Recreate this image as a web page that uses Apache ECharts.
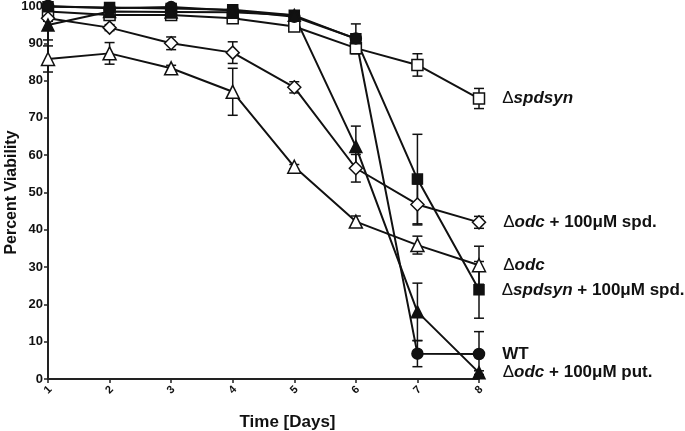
<!DOCTYPE html>
<html>
<head>
<meta charset="utf-8">
<script src="https://cdn.jsdelivr.net/npm/echarts@6/dist/echarts.min.js"></script>
<style>
  html, body { margin: 0; padding: 0; background: #fff; }
  #chart { width: 685px; height: 431px; }
</style>
</head>
<body>
<div id="chart"></div>
<script>
// days on the x axis
const days = [1, 2, 3, 4, 5, 6, 7, 8]

// percent viability (mean) and error (+/-) for each strain
const spdsyn       = [98.5, 97.6, 97.6, 96.7, 94.5, 88.7, 84.2, 75.2]
const spdsynErr    = [0.8, 0.8, 0.8, 1.0, 1.0, 1.2, 3.0, 2.7]
const odcSpd       = [96.7, 94.2, 90.0, 87.5, 78.2, 56.5, 46.8, 42.0]
const odcSpdErr    = [0.8, 0.8, 1.7, 2.9, 1.5, 3.7, 5.5, 1.6]
const odc          = [85.8, 87.3, 83.3, 77.0, 56.9, 42.2, 35.9, 30.5]
const odcErr       = [3.5, 2.9, 0.8, 6.3, 0.6, 1.5, 2.4, 5.1]
const spdsynSpd    = [99.8, 99.6, 99.3, 99.0, 97.5, 91.2, 53.6, 23.9]
const spdsynSpdErr = [0.3, 0.3, 0.3, 0.3, 0.5, 4.0, 12.0, 7.6]
const wt           = [100, 99.4, 99.7, 98.8, 97.1, 91.3, 6.8, 6.7]
const wtErr        = [0.3, 0.3, 0.3, 0.3, 0.5, 1.0, 3.5, 6.0]
const odcPut       = [94.9, 98.5, 98.4, 98.3, 97.5, 62.3, 18.0, 1.7]
const odcPutErr    = [4.0, 0.5, 0.5, 0.5, 0.5, 5.5, 7.7, 0.5]

const yTicks = [0, 10, 20, 30, 40, 50, 60, 70, 80, 90, 100]

const strains = [
    { label: '{d|Δ}{i|spdsyn}', values: spdsyn, errs: spdsynErr, symbol: 'rect', size: 11, open: true },
    { label: '{d|Δ}{i|odc}{b| + 100μM spd.}', values: odcSpd, errs: odcSpdErr, symbol: 'diamond', size: 13, open: true },
    { label: '{d|Δ}{i|odc}', values: odc, errs: odcErr, symbol: 'triangle', size: 13, open: true },
    { label: '{d|Δ}{i|spdsyn}{b| + 100μM spd.}', values: spdsynSpd, errs: spdsynSpdErr, symbol: 'rect', size: 10, open: false },
    { label: '{b|WT}', values: wt, errs: wtErr, symbol: 'circle', size: 11, open: false },
    { label: '{d|Δ}{i|odc}{b| + 100μM put.}', values: odcPut, errs: odcPutErr, symbol: 'triangle', size: 12, open: false }
]

const font = '"Liberation Sans", Arial, sans-serif'
const labelRich = {
    d: { fontFamily: font, fontSize: 17, fontWeight: 'normal', color: '#111' },
    i: { fontFamily: font, fontSize: 17, fontWeight: 'bold', fontStyle: 'italic', color: '#111' },
    b: { fontFamily: font, fontSize: 17, fontWeight: 'bold', color: '#111' }
}

const errorBars = (s) => ({
    type: 'custom',
    z: 1,
    clip: false,
    silent: true,
    data: days.map((d, i) => [d, s.values[i], s.errs[i]]),
    renderItem: (params, api) => {
        const x = api.value(0)
        const y = api.value(1)
        const e = api.value(2)
        const top = api.coord([x, y + e])
        const bot = api.coord([x, y - e])
        const w = 5
        const style = { stroke: '#111', lineWidth: 1.5 }
        return {
            type: 'group',
            children: [
                { type: 'line', shape: { x1: top[0], y1: top[1], x2: bot[0], y2: bot[1] }, style },
                { type: 'line', shape: { x1: top[0] - w, y1: top[1], x2: top[0] + w, y2: top[1] }, style },
                { type: 'line', shape: { x1: bot[0] - w, y1: bot[1], x2: bot[0] + w, y2: bot[1] }, style }
            ]
        }
    }
})

const lineSeries = (s) => ({
    type: 'line',
    z: 3,
    clip: false,
    symbol: s.symbol,
    symbolSize: s.size,
    showAllSymbol: true,
    lineStyle: { color: '#111', width: 2 },
    itemStyle: {
        color: s.open ? '#fff' : '#111',
        borderColor: '#111',
        borderWidth: 1.5
    },
    data: days.map((d, i) => {
        const item = { value: [d, s.values[i]] }
        if (i === days.length - 1) {
            item.label = {
                show: true,
                position: 'right',
                distance: 17,
                formatter: s.label,
                rich: labelRich
            }
        }
        return item
    })
})

const option = {
    animation: false,
    grid: { left: 48, right: 206, top: 6, bottom: 52, containLabel: false, outerBoundsMode: 'none' },
    xAxis: {
        type: 'value',
        min: 1,
        max: 8,
        interval: 1,
        name: 'Time [Days]',
        nameLocation: 'middle',
        nameGap: 35,
        nameMoveOverlap: false,
        nameTextStyle: { fontFamily: font, fontSize: 17, fontWeight: 'bold', color: '#111', padding: [0, 0, 0, 48] },
        axisLine: { lineStyle: { color: '#222', width: 2 } },
        axisTick: { length: 4, lineStyle: { color: '#222', width: 1.5 } },
        axisLabel: {
            rotate: 45, margin: 11, align: 'center', verticalAlign: 'middle',
            fontFamily: font, fontSize: 11, fontWeight: 'bold', color: '#111'
        },
        splitLine: { show: false }
    },
    yAxis: {
        type: 'value',
        min: yTicks[0],
        max: yTicks[yTicks.length - 1],
        interval: 10,
        name: 'Percent Viability',
        nameLocation: 'middle',
        nameGap: 28,
        nameMoveOverlap: false,
        nameTextStyle: { fontFamily: font, fontSize: 16, fontWeight: 'bold', color: '#111' },
        axisLine: { show: true, lineStyle: { color: '#222', width: 2 } },
        axisTick: { show: true, length: 4, lineStyle: { color: '#222', width: 1.5 } },
        axisLabel: { margin: 5, fontFamily: font, fontSize: 13, fontWeight: 'bold', color: '#111' },
        splitLine: { show: false }
    },
    series: [
        ...strains.map(errorBars),
        ...strains.map(lineSeries)
    ]
}

const myChart = echarts.init(document.getElementById('chart'))
myChart.setOption(option)
</script>
</body>
</html>
